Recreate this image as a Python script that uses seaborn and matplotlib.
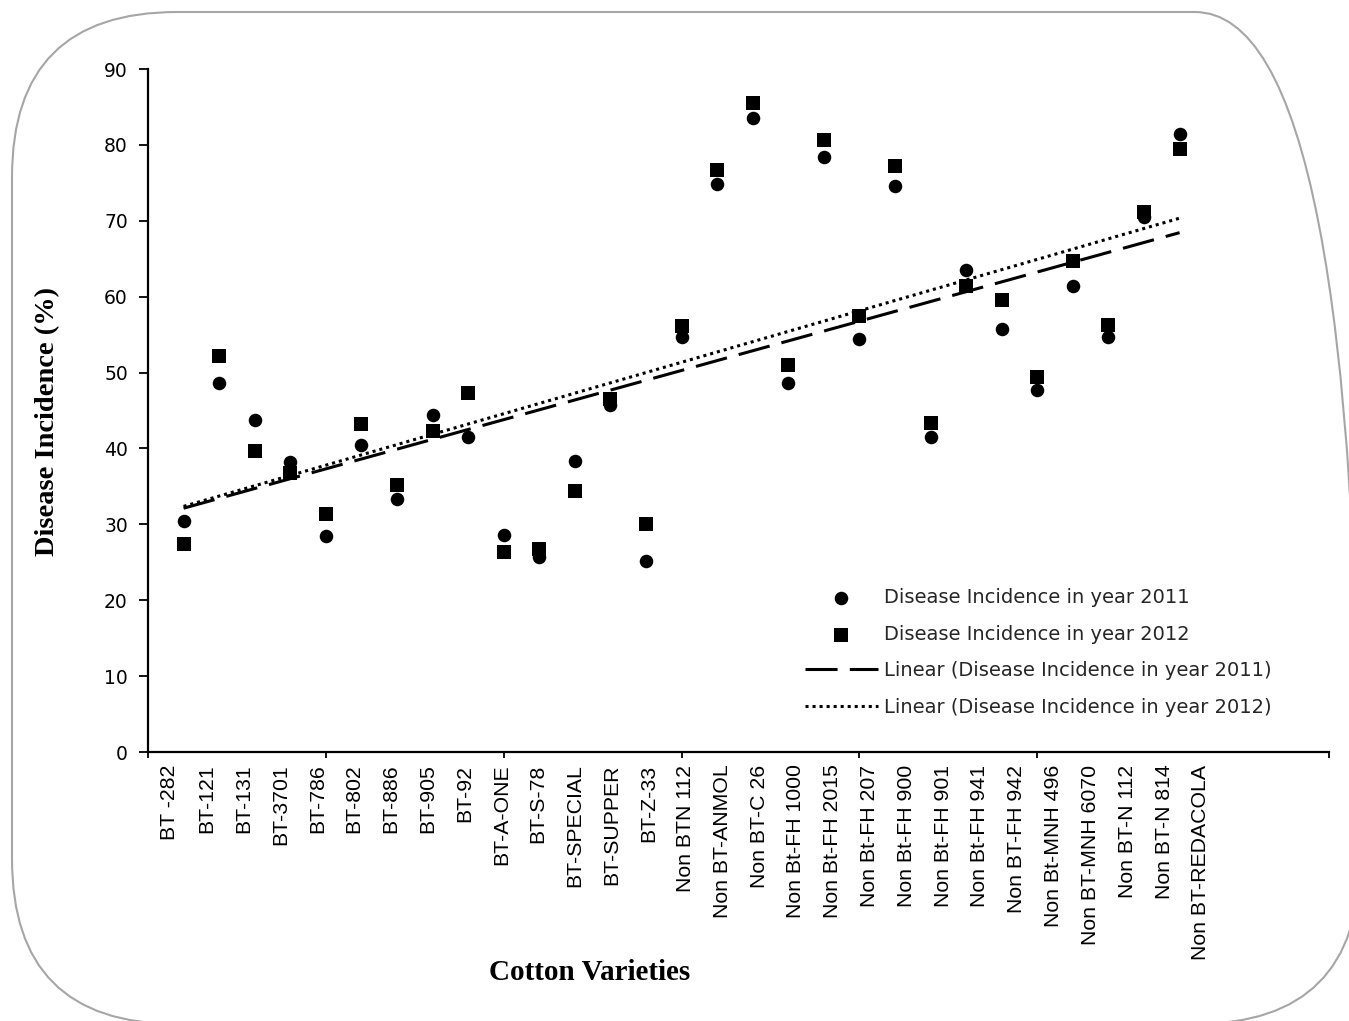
import numpy as np
import pandas as pd
import matplotlib
matplotlib.use("Agg")
import matplotlib.pyplot as plt
import matplotlib.transforms as mtransforms
from matplotlib.patches import FancyBboxPatch
import seaborn as sns

varieties = [
    "BT -282", "BT-121", "BT-131", "BT-3701", "BT-786", "BT-802", "BT-886",
    "BT-905", "BT-92", "BT-A-ONE", "BT-S-78", "BT-SPECIAL", "BT-SUPPER",
    "BT-Z-33", "Non BTN 112", "Non BT-ANMOL", "Non BT-C 26",
    "Non Bt-FH 1000", "Non Bt-FH 2015", "Non Bt-FH 207", "Non Bt-FH 900",
    "Non Bt-FH 901", "Non Bt-FH 941", "Non BT-FH 942", "Non Bt-MNH 496",
    "Non BT-MNH 6070", "Non BT-N 112", "Non BT-N 814", "Non BT-REDACOLA",
]
incidence_2011 = [30.4, 48.6, 43.7, 38.2, 28.4, 40.4, 33.4, 44.4, 41.5, 28.6,
                  25.7, 38.4, 45.7, 25.2, 54.7, 74.8, 83.5, 48.6, 78.4, 54.4,
                  74.6, 41.5, 63.5, 55.7, 47.7, 61.4, 54.7, 70.5, 81.5]
incidence_2012 = [27.4, 52.2, 39.6, 36.8, 31.3, 43.2, 35.2, 42.3, 47.3, 26.4,
                  26.8, 34.4, 46.5, 30.0, 56.1, 76.7, 85.5, 51.0, 80.6, 57.4,
                  77.2, 43.3, 61.4, 59.6, 49.4, 64.7, 56.3, 71.2, 79.5]
y_ticks = [0, 10, 20, 30, 40, 50, 60, 70, 80, 90]

df = pd.DataFrame({
    "pos": np.arange(1, len(varieties) + 1),
    "y2011": incidence_2011,
    "y2012": incidence_2012,
})

sns.set_theme(style="ticks")
plt.rcParams["font.family"] = ["DejaVu Sans"]

W, H = 1349, 1021
fig = plt.figure(figsize=(W / 100, H / 100), dpi=100)
fig.patch.set_facecolor("white")
ax = fig.add_axes([148 / W, 269 / H, (1329 - 148) / W, 683 / H])

lab11 = "Disease Incidence in year 2011"
lab12 = "Disease Incidence in year 2012"
sns.scatterplot(data=df, x="pos", y="y2011", marker="o", s=95, color="black",
                linewidth=0, label=lab11, ax=ax)
sns.scatterplot(data=df, x="pos", y="y2012", marker="s", s=95, color="black",
                linewidth=0, label=lab12, ax=ax)
sns.regplot(data=df, x="pos", y="y2011", scatter=False, ci=None, truncate=True,
            color="black", label="Linear (" + lab11 + ")", ax=ax,
            line_kws=dict(linewidth=2.2, dashes=(10.5, 4), dash_capstyle="butt"))
sns.regplot(data=df, x="pos", y="y2012", scatter=False, ci=None, truncate=True,
            color="black", label="Linear (" + lab12 + ")", ax=ax,
            line_kws=dict(linewidth=2.2, dashes=(1, 1.3), dash_capstyle="butt"))

# axes
x_max = 33.2
ax.set_xlim(0, x_max)
ax.set_ylim(0, 90)
ax.set_yticks(y_ticks)
ax.set_xticks([0, 5, 10, 15, 20, 25, x_max])
ax.set_xticklabels([])
label_pos = 0.618 + np.arange(len(varieties)) * 1.035
ax.set_xticks(label_pos, minor=True)
ax.set_xticklabels(varieties, minor=True, rotation=90,
                   fontfamily="Liberation Sans", fontsize=15.3)
ax.tick_params(axis="x", which="major", direction="out", length=4, width=1.3,
               color="black")
ax.tick_params(axis="x", which="minor", length=0, pad=9, labelcolor="black")
ax.tick_params(axis="y", direction="out", length=6.5, width=1.3, pad=8,
               labelsize=13.5, color="black", labelcolor="black")
ax.set_xlabel("")
ax.set_ylabel("")
sns.despine(ax=ax)
for side in ["left", "bottom"]:
    ax.spines[side].set_linewidth(1.6)
    ax.spines[side].set_color("black")

handles, labels = ax.get_legend_handles_labels()
order = [labels.index(l) for l in [lab11, lab12, "Linear (" + lab11 + ")",
                                   "Linear (" + lab12 + ")"]]
ax.legend([handles[i] for i in order], [labels[i] for i in order],
          loc="center left", bbox_to_anchor=(805 / W, 1 - 652.5 / H),
          bbox_transform=fig.transFigure, frameon=False, borderpad=0,
          borderaxespad=0, handlelength=3.75, handletextpad=0.3,
          labelspacing=0.9, prop={"family": "DejaVu Sans", "size": 14})

fig.text(48 / W, 1 - 421 / H, "Disease Incidence (%)", rotation=90,
         ha="center", va="center", fontfamily="Liberation Serif",
         fontweight="bold", fontsize=20.5, color="black")
fig.text(590 / W, 1 - 972 / H, "Cotton Varieties", ha="center", va="center",
         fontfamily="Liberation Serif", fontweight="bold", fontsize=21,
         color="black")

# rounded frame around the whole picture
frame = FancyBboxPatch((12, -3), 1348, 1012,
                       boxstyle="round,pad=0,rounding_size=165",
                       transform=mtransforms.IdentityTransform(),
                       fill=False, edgecolor="#a6a6a6", linewidth=1.5)
fig.add_artist(frame)

fig.savefig("out.png", dpi=100)
